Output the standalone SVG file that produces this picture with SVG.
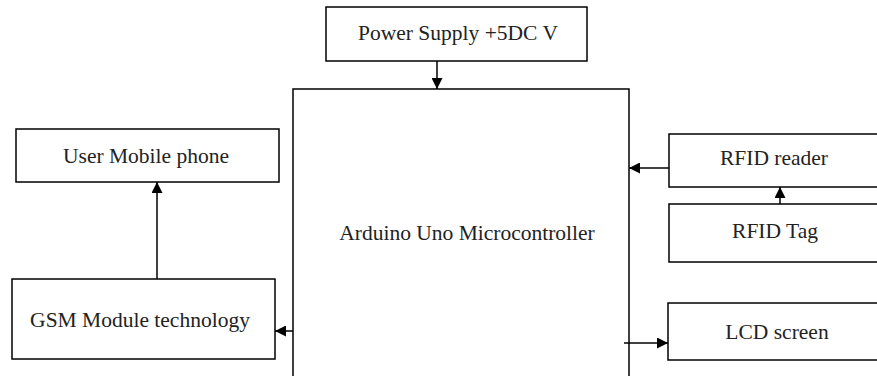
<svg xmlns="http://www.w3.org/2000/svg" width="877" height="376" viewBox="0 0 877 376">
<defs>
<style>
.box{fill:#fff;stroke:#000;stroke-width:1.5}
.t{font-size:21.5px;fill:#222;text-anchor:middle}
.c{stroke:#000;stroke-width:1.5;fill:none}
</style>
<marker id="ah" viewBox="0 0 10 10" refX="10" refY="5" markerWidth="12" markerHeight="11" markerUnits="userSpaceOnUse" orient="auto">
<path d="M0,0 L10,5 L0,10 z" fill="#000"/>
</marker>
</defs>
<rect width="877" height="376" fill="#fff"/>
<g font-family="'Liberation Serif', 'DejaVu Serif', serif">
<g id="power"><rect class="box" x="326" y="7" width="261" height="54"/><text class="t" x="458" y="40">Power Supply +5DC V</text></g>
<g id="arduino"><rect class="box" x="293" y="89" width="336" height="300"/><text class="t" x="467" y="240">Arduino Uno Microcontroller</text></g>
<g id="user"><rect class="box" x="16" y="129" width="263" height="53"/><text class="t" x="146" y="163">User Mobile phone</text></g>
<g id="gsm"><rect class="box" x="12" y="279" width="263" height="80"/><text class="t" x="140" y="327">GSM Module technology</text></g>
<g id="rfidreader"><rect class="box" x="669" y="134" width="220" height="53"/><text class="t" x="774" y="165">RFID reader</text></g>
<g id="rfidtag"><rect class="box" x="669" y="204" width="220" height="58"/><text class="t" x="775" y="238">RFID Tag</text></g>
<g id="lcd"><rect class="box" x="668" y="303" width="220" height="57"/><text class="t" x="777" y="339">LCD screen</text></g>
</g>
<g id="connectors">
<line class="c" x1="437" y1="61" x2="437" y2="89" marker-end="url(#ah)"/>
<line class="c" x1="669" y1="168" x2="629" y2="168" marker-end="url(#ah)"/>
<line class="c" x1="780" y1="204" x2="780" y2="187" marker-end="url(#ah)"/>
<line class="c" x1="157" y1="279" x2="157" y2="182" marker-end="url(#ah)"/>
<line class="c" x1="293" y1="331" x2="275" y2="331" marker-end="url(#ah)"/>
<line class="c" x1="624" y1="343" x2="668" y2="343" marker-end="url(#ah)"/>
</g>
</svg>
